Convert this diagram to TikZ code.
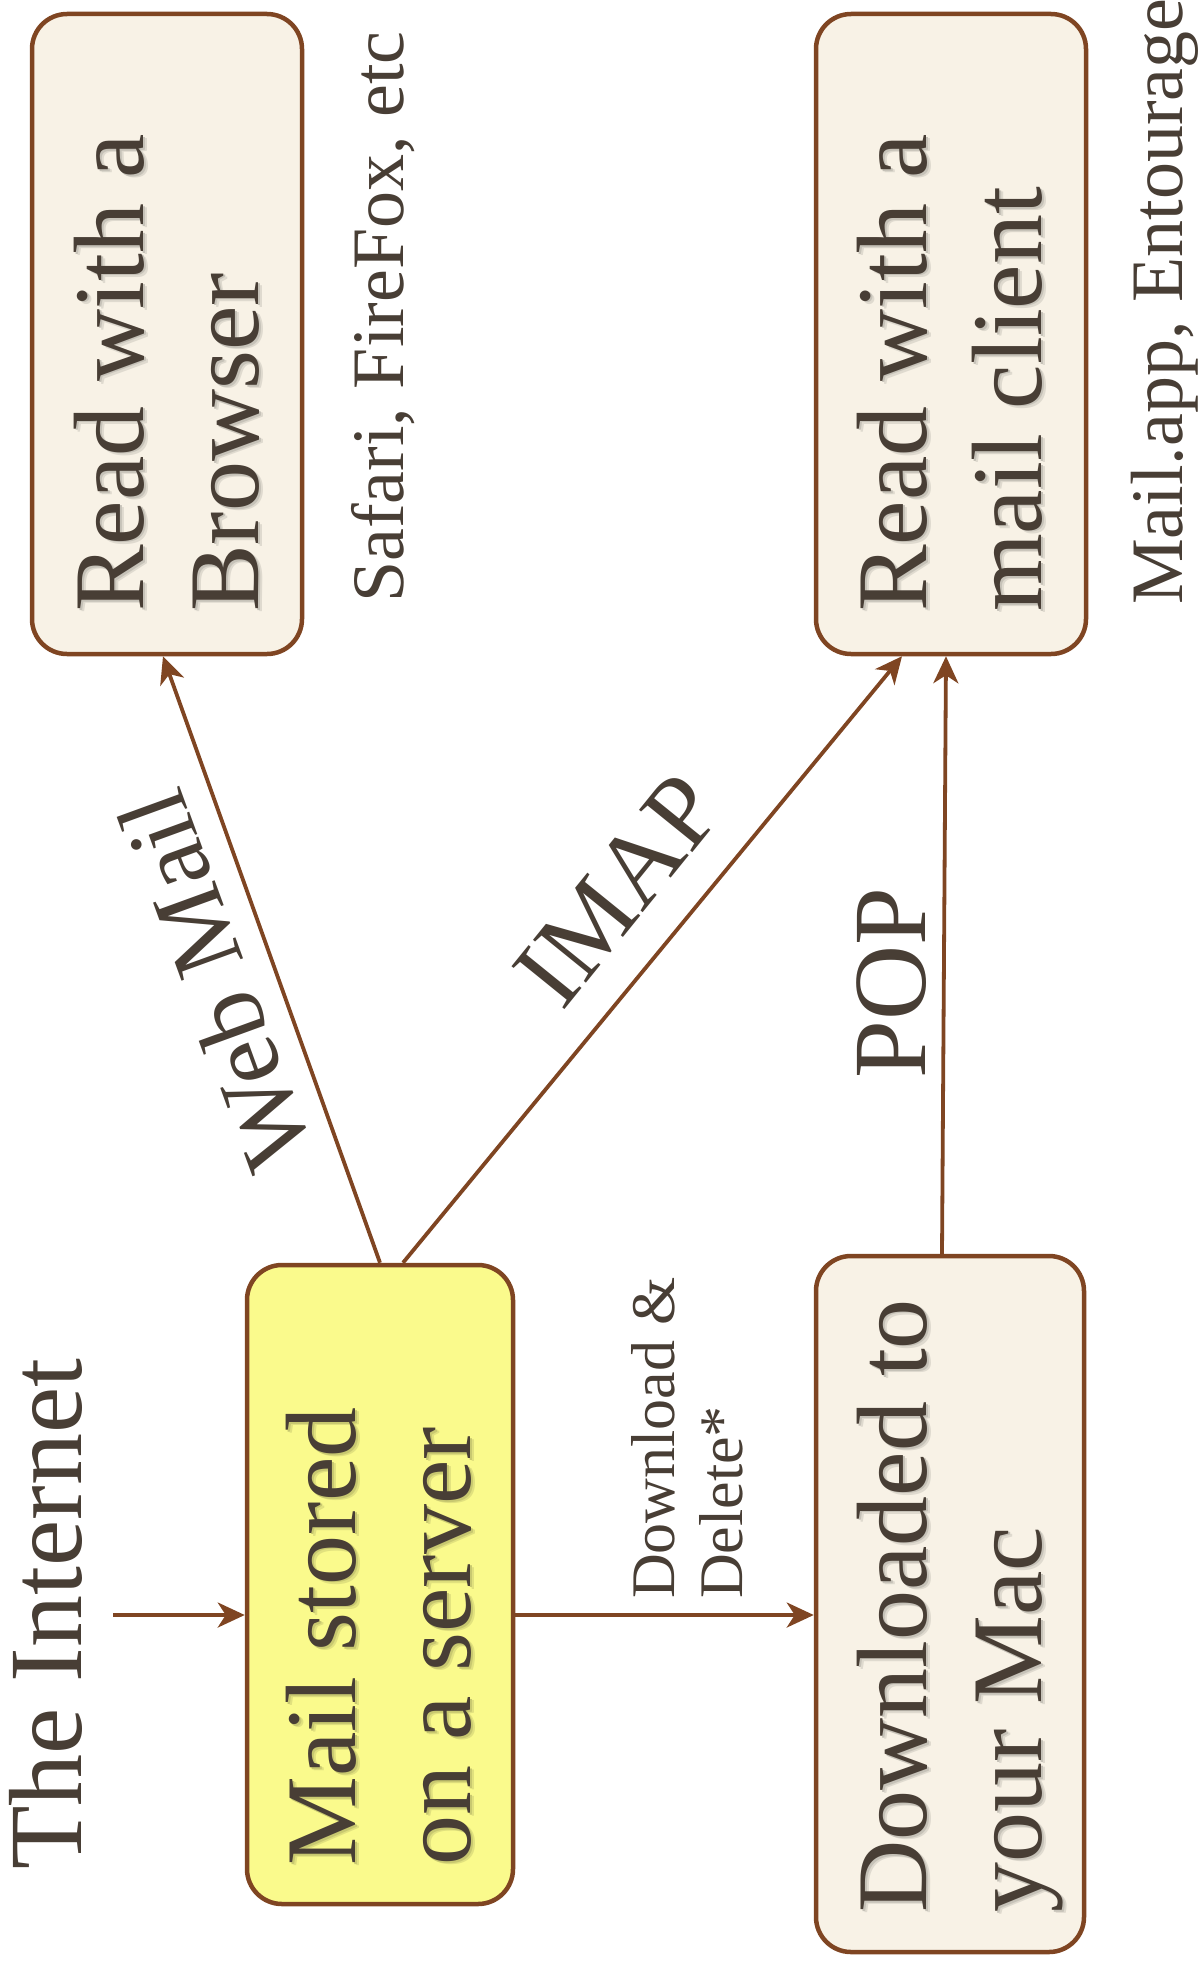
\documentclass[tikz,border=0pt]{standalone}
\usepackage{fontspec}
\setmainfont{Liberation Serif}
\usetikzlibrary{arrows.meta,calc}
\definecolor{edge}{RGB}{127,69,34}
\definecolor{ink}{RGB}{72,62,53}
\definecolor{cream}{RGB}{248,242,230}
\definecolor{mailyellow}{RGB}{250,250,140}
% text with a soft drop shadow: #1 background colour, #2 text
\newcommand{\shd}[2]{%
  \makebox[0pt][l]{\hspace*{-3pt}\raisebox{-4.5pt}{\textcolor{#1!90!black}{#2}}}%
  \makebox[0pt][l]{\hspace*{-1.5pt}\raisebox{-2.2pt}{\textcolor{#1!80!black}{#2}}}#2}
\begin{document}
\begin{tikzpicture}[x=1pt,y=-1pt,
  box/.style={draw=edge, line width=4.5pt, rounded corners=35pt, inner sep=0pt, fill=cream},
  boxtext/.style={font=\fontsize{100}{115}\selectfont, text=ink, rotate=90, align=left, inner sep=0pt, anchor=north west},
  lbl/.style={text=ink, inner sep=0pt},
  conn/.style={draw=edge, line width=3.8pt, -{Stealth[length=27pt,width=25pt,inset=8pt]}}]
\clip (0,0) rectangle (1203,1967);
% boxes
\node[box, minimum width=270pt, minimum height=640pt] (browser) at (167,334) {};
\node[box, minimum width=270pt, minimum height=640pt] (client) at (951,334) {};
\node[box, fill=mailyellow, minimum width=266pt, minimum height=639pt] (server) at (380,1584.5) {};
\node[box, minimum width=268pt, minimum height=696pt] (download) at (950,1604) {};
% box texts
\node[boxtext] (browser-t) at (73.7,612) {\shd{cream}{Read with a}\\\shd{cream}{Browser}};
\node[boxtext] (client-t) at (856.7,612) {\shd{cream}{Read with a}\\\shd{cream}{mail client}};
\node[boxtext] (server-t) at (285.7,1866) {\shd{mailyellow}{Mail stored}\\\shd{mailyellow}{on a server}};
\node[boxtext] (download-t) at (856.7,1913) {\shd{cream}{Downloaded to}\\\shd{cream}{your Mac}};
% free labels
\node[lbl, rotate=90, anchor=base west, font=\fontsize{104}{120}\selectfont] (internet) at (81,1870) {The Internet};
\node[lbl, rotate=90, anchor=base west, font=\fontsize{74}{85}\selectfont] (safari) at (403,603) {Safari, FireFox, etc};
\node[lbl, rotate=90, anchor=base west, font=\fontsize{74}{85}\selectfont] (mailapp) at (1182,605) {Mail.app, Entourage};
\node[lbl, rotate=90, anchor=north west, align=left, font=\fontsize{62}{68}\selectfont] (dldel) at (631.7,1599) {Download \&\\Delete*};
\node[lbl, rotate=90, anchor=base west, font=\fontsize{104}{120}\selectfont] (pop) at (925,1079) {POP};
\node[lbl, rotate=110, font=\fontsize{100}{115}\selectfont] (webmail) at (215,981) {Web Mail};
\node[lbl, rotate=51, font=\fontsize{104}{120}\selectfont] (imap) at (618,890) {IMAP};
% connectors
\coordinate (inetstart) at (113,1615);
\draw[conn] (inetstart) -- (inetstart -| server.west);
\draw[conn] (inetstart -| server.east) -- (inetstart -| download.west);
\draw[conn] (server.north) -- ([xshift=-4pt]browser.south);
\draw[conn] ([xshift=23pt]server.north) -- ([xshift=-49pt]client.south);
\draw[conn] ([xshift=-8pt]download.north) -- ([xshift=-5pt]client.south);
\end{tikzpicture}
\end{document}
